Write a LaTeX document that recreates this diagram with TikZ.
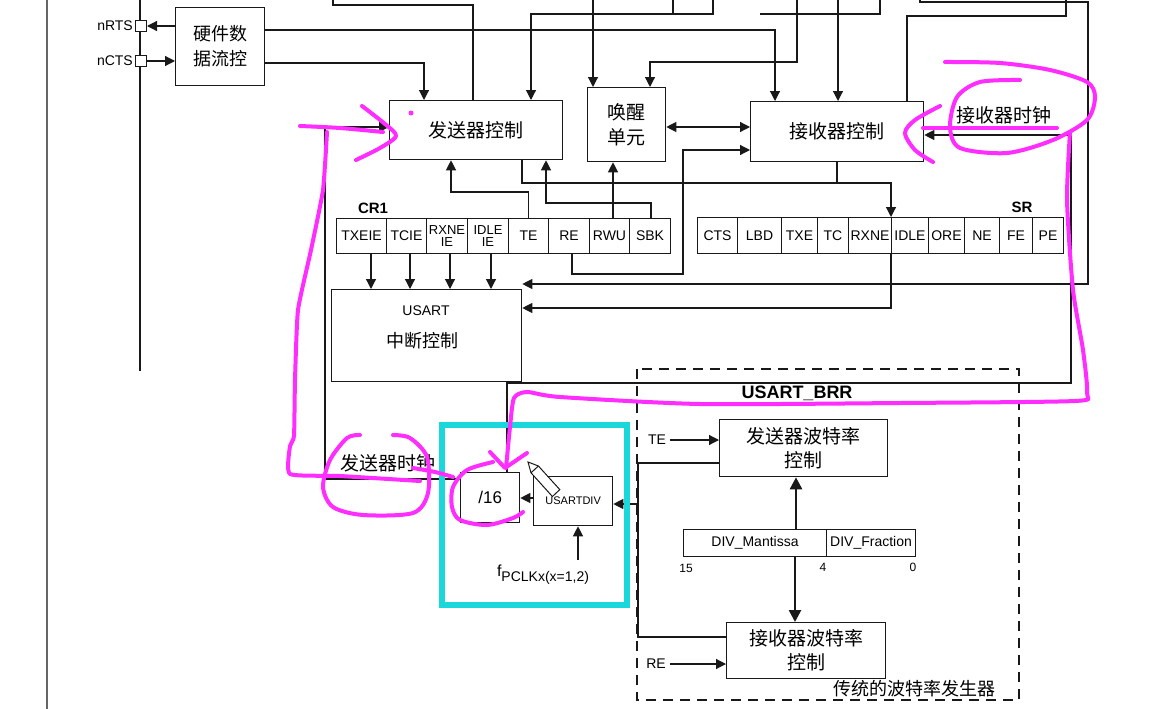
\documentclass[tikz,border=0pt]{standalone}
\usepackage{fontspec}
\setmainfont{Liberation Sans}
\newfontfamily\cjk{Noto Sans CJK SC}
\usetikzlibrary{arrows.meta}
\newcommand\fs[2]{\fontsize{#1}{#2}\selectfont}
\definecolor{mag}{RGB}{255,45,255}
\definecolor{cyb}{RGB}{25,215,218}
\definecolor{ink}{RGB}{25,25,25}
\begin{document}
\begin{tikzpicture}[x=1pt,y=-1pt,
  box/.style={draw=ink, line width=1.3pt, inner sep=0pt, anchor=north west, align=center},
  cell/.style={draw=ink, line width=1pt, inner sep=0pt, anchor=north west, align=center, minimum height=35pt, font=\fs{14}{13}},
  cell2/.style={cell, font=\fs{13}{12}},
  pinbox/.style={draw=ink, line width=1pt, fill=white, minimum size=11pt, inner sep=0pt, anchor=north west},
  lab/.style={inner sep=0pt, font=\fs{14}{14}},
  zhlab/.style={inner sep=0pt, font=\cjk\fs{19}{22}},
  ln/.style={draw=ink, line width=1.2pt},
  arr/.style={ln, -{Triangle[length=10pt,width=10pt]}},
  arrb/.style={ln, {Triangle[length=10pt,width=10pt]}-{Triangle[length=10pt,width=10pt]}},
  arrk/.style={draw=ink, line width=2.6pt, -{Triangle[length=12pt,width=12pt]}},
  mg/.style={draw=mag, line width=4pt, line cap=round, line join=round},
]
\useasboundingbox (0,0) rectangle (1156,709);
\fill[white] (0,0) rectangle (1156,709);

% frame lines
\draw[draw=black!60, line width=1.6pt] (47,0) -- (47,709);
\draw[draw=ink, line width=2.6pt] (140,0) -- (140,371);

% ---------- blocks ----------
\node[box, minimum width=89pt, minimum height=78pt, font=\cjk\fs{18}{25}] (hw) at (175,7) {硬件数\\据流控};
\node[pinbox] (rts) at (135,20) {};
\node[pinbox] (cts) at (135,55) {};
\node[lab, anchor=east] (rtsl) at (133,26) {nRTS};
\node[lab, anchor=east] (ctsl) at (133,61) {nCTS};

\node[box, minimum width=173pt, minimum height=59pt, font=\cjk\fs{19}{22}] (tx) at (389,100) {发送器控制};
\node[box, minimum width=78pt, minimum height=74pt, font=\cjk\fs{19}{25}] (wk) at (587,87) {唤醒\\单元};
\node[box, minimum width=173pt, minimum height=60pt, font=\cjk\fs{19}{22}] (rx) at (750,101) {接收器控制};

\node[box, minimum width=190pt, minimum height=92pt] (usart) at (331,289) {};
\node[lab] (usartt) at (426,311) {USART};
\node[zhlab, font=\cjk\fs{18}{20}] (usartz) at (422,341) {中断控制};

% CR1 register
\node[inner sep=0pt, font=\bfseries\fs{15}{15}] (cr1l) at (373,208) {CR1};
\node[cell, minimum width=50pt] (c1) at (336,218) {TXEIE};
\node[cell, minimum width=40pt] (c2) at (386,218) {TCIE};
\node[cell2, minimum width=41pt] (c3) at (426,218) {RXNE\\IE};
\node[cell2, minimum width=41pt] (c4) at (467,218) {IDLE\\IE};
\node[cell, minimum width=40pt] (c5) at (508,218) {TE};
\node[cell, minimum width=41pt] (c6) at (548,218) {RE};
\node[cell, minimum width=40pt] (c7) at (589,218) {RWU};
\node[cell, minimum width=41pt] (c8) at (629,218) {SBK};

% SR register
\node[inner sep=0pt, font=\bfseries\fs{15}{15}] (srl) at (1022,207) {SR};
\node[cell, minimum width=40pt, minimum height=36pt] (s1) at (697,217) {CTS};
\node[cell, minimum width=44pt, minimum height=36pt] (s2) at (737,217) {LBD};
\node[cell, minimum width=36pt, minimum height=36pt] (s3) at (781,217) {TXE};
\node[cell, minimum width=31pt, minimum height=36pt] (s4) at (817,217) {TC};
\node[cell, minimum width=43pt, minimum height=36pt] (s5) at (848,217) {RXNE};
\node[cell, minimum width=37pt, minimum height=36pt] (s6) at (891,217) {IDLE};
\node[cell, minimum width=36pt, minimum height=36pt] (s7) at (928,217) {ORE};
\node[cell, minimum width=35pt, minimum height=36pt] (s8) at (964,217) {NE};
\node[cell, minimum width=33pt, minimum height=36pt] (s9) at (999,217) {FE};
\node[cell, minimum width=31pt, minimum height=36pt] (s10) at (1032,217) {PE};

% clock / divider
\node[box, minimum width=59pt, minimum height=50pt, font=\fs{17}{17}] (d16) at (460,472) {/16};
\node[box, minimum width=79pt, minimum height=49pt, font=\fs{11}{11}] (udiv) at (533,476) {USARTDIV};
\node[inner sep=0pt, font=\fs{16}{16}] (fpl) at (543,575) {f\raisebox{-5pt}{\fs{14}{14}PCLKx(x=1,2)}};

% baud rate generator
\draw[draw=ink, line width=1.3pt, dash pattern=on 10pt off 7pt] (637,369) rectangle (1019,700);
\node[inner sep=0pt, font=\bfseries\fs{18}{18}] (brrl) at (797,393) {USART\_BRR};
\node[box, minimum width=168pt, minimum height=57pt, font=\cjk\fs{19}{24}] (txb) at (719,419) {发送器波特率\\控制};
\node[box, minimum width=159pt, minimum height=56pt, font=\cjk\fs{19}{24}] (rxb) at (726,622) {接收器波特率\\控制};
\node[cell, minimum width=143pt, minimum height=27pt] (mant) at (683,529) {DIV\_Mantissa};
\node[cell, minimum width=89pt, minimum height=27pt] (frac) at (826,529) {DIV\_Fraction};
\node[lab, font=\fs{12}{12}] (b15) at (686,568) {15};
\node[lab, font=\fs{12}{12}] (b4) at (823,567) {4};
\node[lab, font=\fs{12}{12}] (b0) at (913,567) {0};
\node[lab] (tel) at (657,440) {TE};
\node[lab] (rel) at (656,664) {RE};
\node[zhlab, font=\cjk\fs{18}{20}] (gen) at (914,689) {传统的波特率发生器};

% clock labels
\node[zhlab] (txcl) at (388,463) {发送器时钟};
\node[zhlab] (rxcl) at (1004,115) {接收器时钟};

% ---------- connectors ----------
\draw[arr] (hw.west |- rts.center) -- (rts.east);
\draw[arr] (cts.east) -- (cts.center -| hw.west);
\draw[arr] (hw.east |- 0,30) -| ([xshift=25pt]rx.north west);
\draw[arr] (hw.east |- 0,63) -| ([xshift=35pt]tx.north west);
\draw[ln] (333,0) |- (473,5) -- (473,0 |- tx.north);
\draw[ln] (673,0) -- (673,14);
\draw[arr] (713,0) |- (531,14) -- (531,0 |- tx.north);
\draw[ln] (880,0) |- (760,14);
\draw[arr] (593,0) -- (593,0 |- wk.north);
\draw[arr] (797,0) |- (650,62) -- (650,0 |- wk.north);
\draw[arr] (838,0) -- (838,0 |- rx.north);
\draw[ln] (907,0 |- rx.north) |- (1066,16) -- (1066,0);
\draw[arr] (920,0) |- (1088,2) |- (usart.east |- 0,284);
\draw[arrb] (wk.east |- 0,127) -- (rx.west |- 0,127);
\draw[arr] (572,0 |- c6.south) |- (683,274) |- (rx.west |- 0,150);
\draw[arr] (522,0 |- tx.south) |- (891,183) -- (891,0 |- s6.north);
\draw[ln] (837,0 |- rx.south) -- (837,183);
\draw[arr] (891,0 |- s6.south) |- (usart.east |- 0,308);
\draw[arr] (371,0 |- c1.south) -- (371,0 |- usart.north);
\draw[arr] (410,0 |- c2.south) -- (410,0 |- usart.north);
\draw[arr] (450,0 |- c3.south) -- (450,0 |- usart.north);
\draw[arr] (491,0 |- c4.south) -- (491,0 |- usart.north);
\draw[arr] (c5.north) |- (451,192) -- (451,0 |- tx.south);
\draw[arr] (651,0 |- c8.north) |- (546,203) -- (546,0 |- tx.south);
\draw[arr] (613,0 |- c7.north) -- (613,0 |- wk.south);
\draw[arr] (d16.west |- 0,479) -| (325,127) -- (tx.west |- 0,127);
\draw[arr] (507,0 |- d16.north) |- (1071,383) |- (rx.east |- 0,135);
\draw[arr] (udiv.west |- 0,498) -- (d16.east |- 0,498);
\draw[arr] (578,560) -- (578,0 |- udiv.south);
\draw[arr] (tel.east) ++(4,0) -- (tel.east -| txb.west);
\draw[ln] (txb.west |- 0,463) -| (638,637) -- (rxb.west |- 0,637);
\draw[arr] (638,504) -- (udiv.east |- 0,504);
\draw[arrk] (796,0 |- mant.north) -- (796,0 |- txb.south);
\draw[arrk] (795,0 |- mant.south) -- (795,0 |- rxb.north);
\draw[arr] (rel.east) ++(4,0) -- (rel.east -| rxb.west);

% ---------- annotations ----------
\draw[draw=cyb, line width=6pt] (442,425) rectangle (627,605);

\draw[mg] plot[smooth] coordinates {(300,126) (340,128) (383,132)};
\draw[mg] plot[smooth] coordinates {(362,106) (385,124) (396,136) (380,148) (356,160)};
\draw[mg] plot[smooth, tension=0.3] coordinates {(327,132) (323,190) (311,250) (298,310) (295,380) (294,436) (290,446) (290,474) (340,476) (420,481)};
\draw[mg] plot[smooth] coordinates {(360,435) (347,438) (330,460) (323,487) (333,507) (363,515) (413,513) (428,493) (427,457) (410,438) (393,435)};
\draw[mg] plot[smooth] coordinates {(413,468) (435,472) (453,477)};
\draw[mg] plot[smooth] coordinates {(493,462) (467,470) (453,487) (452,507) (460,520) (487,525) (513,518) (523,512)};
\draw[mg] plot[smooth, tension=0.4] coordinates {(1070,132) (1067,200) (1073,290) (1083,350) (1087,393) (1075,401) (900,403) (700,404) (560,397) (527,392) (514,398) (510,427) (506,468)};
\draw[mg] (490,452) -- (505,468) -- (527,453);
\draw[mg] plot[smooth] coordinates {(945,62) (1000,63) (1050,70) (1087,82) (1095,97) (1087,120) (1053,140) (1007,153) (960,148) (950,127) (957,97) (980,82) (1020,80)};
\draw[mg] (1057,128) -- (923,128);
\draw[mg] plot[smooth] coordinates {(940,106) (915,120) (905,133) (915,150) (933,162)};
\fill[mag] (411,113) circle (2.5pt);

% cursor
\draw[draw=ink, line width=1pt, fill=white] (528,462) -- (538.4,466) -- (559.8,489.6) -- (552.4,496.5) -- (531,472.8) -- cycle;
\draw[draw=ink, line width=1pt] (531,472.8) -- (538.4,466);
\end{tikzpicture}
\end{document}
